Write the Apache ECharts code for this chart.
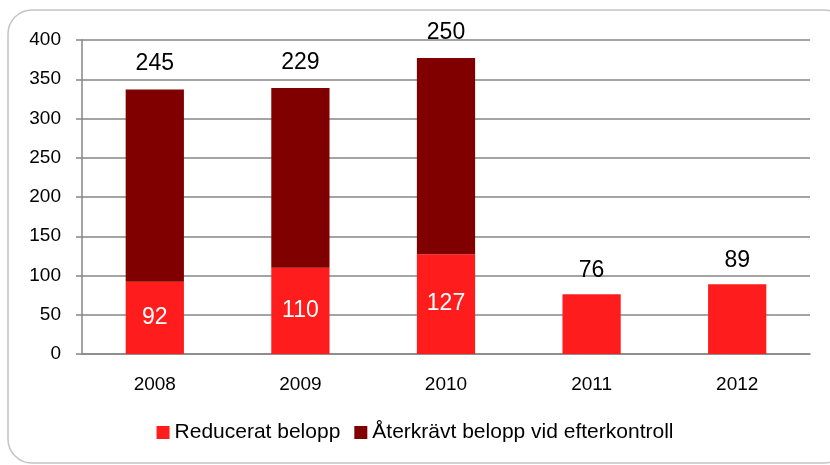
<!DOCTYPE html>
<html>
<head>
<meta charset="utf-8">
<script src="https://cdn.jsdelivr.net/npm/echarts@6/dist/echarts.min.js"></script>
<style>
  html, body { margin: 0; padding: 0; background: #fff; }
  #chart { width: 830px; height: 465px; }
</style>
</head>
<body>
<div id="chart"></div>
<script>
const years = ['2008', '2009', '2010', '2011', '2012'];
const reducerat = [92, 110, 127, 76, 89];
const aterkravt = [245, 229, 250, null, null];
const yTicks = [0, 50, 100, 150, 200, 250, 300, 350, 400];

const chart = echarts.init(document.getElementById('chart'));
const font = '"Liberation Sans", "DejaVu Sans", sans-serif';

// bars without a stacked segment on top get their label above, in black
const reducData = reducerat.map((v, i) => {
  if (aterkravt[i] == null) {
    return { value: v, label: { position: 'top', color: '#000', distance: 12 } };
  }
  return v;
});

const option = {
  animation: false,
  textStyle: { fontFamily: font },
  graphic: [{
    type: 'rect',
    shape: { x: 8, y: 10, width: 840, height: 453, r: 24 },
    style: { fill: 'none', stroke: '#c4c4c4', lineWidth: 1.5 },
    z: -1
  }],
  grid: { left: 82, right: 20, top: 40, bottom: 111 },
  legend: {
    bottom: 17,
    left: 'center',
    itemWidth: 13,
    itemHeight: 13,
    itemGap: 14,
    icon: 'rect',
    textStyle: { fontSize: 21, color: '#000', fontFamily: font },
    data: ['Reducerat belopp', 'Återkrävt belopp vid efterkontroll']
  },
  xAxis: {
    type: 'category',
    data: years,
    axisLine: { lineStyle: { color: '#868686', width: 1.5 } },
    axisTick: { length: 6, lineStyle: { color: '#868686', width: 1.5 } },
    axisLabel: { fontSize: 19, color: '#000', margin: 21 }
  },
  yAxis: {
    type: 'value',
    min: yTicks[0],
    max: yTicks[yTicks.length - 1],
    interval: 50,
    axisLine: { show: true, lineStyle: { color: '#868686', width: 1.5 } },
    axisTick: { show: true, length: 6, lineStyle: { color: '#868686', width: 1.5 } },
    axisLabel: { fontSize: 19, color: '#000', margin: 21 },
    splitLine: { lineStyle: { color: '#868686', width: 1.5 } }
  },
  series: [
    {
      name: 'Reducerat belopp',
      type: 'bar',
      stack: 'total',
      barWidth: '40%',
      data: reducData,
      itemStyle: { color: '#ff1c1c' },
      label: { show: true, position: 'inside', color: '#fff', fontSize: 23, fontFamily: font }
    },
    {
      name: 'Återkrävt belopp vid efterkontroll',
      type: 'bar',
      stack: 'total',
      barWidth: '40%',
      data: aterkravt,
      itemStyle: { color: '#800000' },
      label: { show: true, position: 'top', distance: 14, color: '#000', fontSize: 23, fontFamily: font }
    }
  ]
};

chart.setOption(option);
window.addEventListener('resize', () => chart.resize());
</script>
</body>
</html>
